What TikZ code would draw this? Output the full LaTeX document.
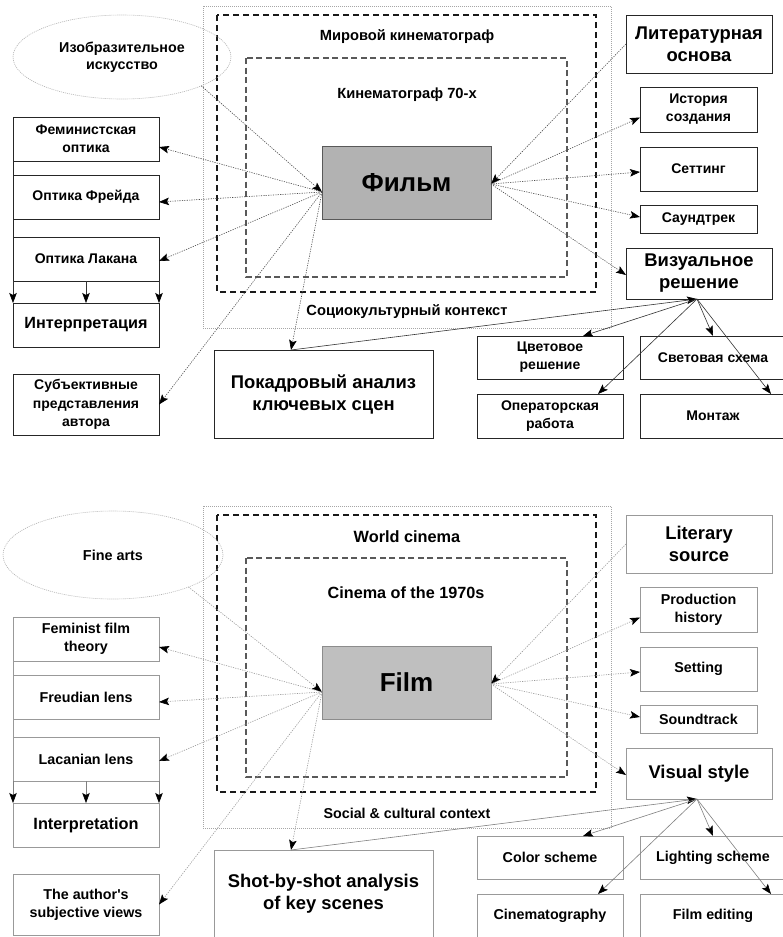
\documentclass[tikz,border=0pt]{standalone}
\usepackage{fontspec}
\setmainfont{Liberation Sans}[Ligatures=TeXOff]
\usetikzlibrary{arrows.meta,shapes.geometric}
\newcommand\fz[2]{\fontsize{#1}{#2}\selectfont\bfseries}
\begin{document}
\begin{tikzpicture}[x=1pt,y=-1pt,
  rb/.style={draw=black!85, line width=0.9pt, inner sep=1pt, outer sep=0pt, align=center, font=\fz{14}{18}},
  eb/.style={draw=black!40, line width=0.9pt, inner sep=1pt, outer sep=0pt, align=center, font=\fz{14.3}{18}},
  tip/.style={-{Stealth[length=10pt,width=7.5pt,inset=2pt,color=black]}},
  rdot/.style={tip, draw=black!70, line width=0.6pt, dash pattern=on 1.2pt off 1.2pt},
  edot/.style={tip, draw=black!40, line width=0.6pt, dash pattern=on 1.2pt off 1.2pt},
  rsol/.style={tip, draw=black!80, line width=0.6pt},
  esol/.style={tip, draw=black!50, line width=0.6pt},
  rline/.style={draw=black!85, line width=0.9pt},
  eline/.style={draw=black!40, line width=0.9pt},
  ctxrect/.style={draw=black!35, line width=0.7pt, dash pattern=on 1pt off 1pt},
  worldrect/.style={draw=black!90, line width=1.6pt, dash pattern=on 6pt off 4pt},
  decrect/.style={draw=black!65, line width=1.2pt, dash pattern=on 6pt off 3.5pt},
  artell/.style={ellipse, draw=black!30, line width=0.6pt, dash pattern=on 1pt off 1pt, inner sep=0pt, outer sep=0pt, align=center},
  filmbox/.style={line width=0.9pt, inner sep=0pt, outer sep=0pt, font=\fz{26}{30}}
]
\useasboundingbox (0,0) rectangle (782,937);
\fill[white] (0,0) rectangle (782,937);

% ================= Russian half =================
\draw[ctxrect] (203,6) rectangle (611,328);
\draw[worldrect] (217,15) rectangle (596,292);
\draw[decrect] (246,58) rectangle (567,277);
\node[font=\fz{14.7}{18}] (rworld) at (407,37) {Мировой кинематограф};
\node[font=\fz{14.7}{18}] (rdec) at (407,95) {Кинематограф 70-х};
\node[font=\fz{14.7}{18}] (rctx) at (407,312) {Социокультурный контекст};
\node[filmbox, draw=black!65, fill=black!30, minimum width=169pt, minimum height=73pt] (rfilm) at (406.5,182.5) {Фильм};
\node[artell, minimum width=218pt, minimum height=84pt, font=\fz{14.3}{17}] (rart) at (122,57) {Изобразительное\\искусство};

\node[rb, minimum width=146pt, minimum height=44pt] (rfem) at (86,139) {Феминистская\\оптика};
\node[rb, minimum width=146pt, minimum height=44pt] (rfreud) at (86,197) {Оптика Фрейда};
\node[rb, minimum width=146pt, minimum height=44pt] (rlacan) at (86,259) {Оптика Лакана};
\node[rb, minimum width=146pt, minimum height=44pt, font=\fz{16.2}{19}] (rinterp) at (86,325) {Интерпретация};
\node[rb, minimum width=146pt, minimum height=61pt, font=\fz{14}{18.5}] (rsubj) at (86,404.5) {Субъективные\\представления\\автора};
\node[rb, minimum width=219pt, minimum height=88pt, font=\fz{18.4}{22}] (rframe) at (323.5,394) {Покадровый анализ\\ключевых сцен};

\node[rb, minimum width=146pt, minimum height=58pt, font=\fz{18.4}{22}] (rlit) at (699,44) {Литературная\\основа};
\node[rb, minimum width=117pt, minimum height=45pt] (rhist) at (698.5,109.5) {История\\создания};
\node[rb, minimum width=117pt, minimum height=44pt] (rsett) at (698.5,169) {Сеттинг};
\node[rb, minimum width=117pt, minimum height=28pt] (rsound) at (698.5,219) {Саундтрек};
\node[rb, minimum width=146pt, minimum height=51pt, font=\fz{18.4}{22}] (rvis) at (699,273.5) {Визуальное\\решение};
\node[rb, minimum width=146pt, minimum height=43pt] (rcolor) at (550,357.5) {Цветовое\\решение};
\node[rb, minimum width=146pt, minimum height=43pt] (rlight) at (713,357.5) {Световая схема};
\node[rb, minimum width=146pt, minimum height=44pt] (roper) at (550,416) {Операторская\\работа};
\node[rb, minimum width=146pt, minimum height=44pt] (rmont) at (713,416) {Монтаж};

\coordinate (rfl) at ([yshift=-9.5pt]rfilm.west);
\coordinate (rfr) at ([yshift=-1.5pt]rfilm.east);
\coordinate (rvb) at ([xshift=-2pt]rvis.south);
\coordinate (rft) at ([xshift=-32.5pt]rframe.north);

\draw[rline] (rfem.south west) -- (rfreud.north west);
\draw[rline] (rfreud.south west) -- (rlacan.north west);
\draw[rsol] (rlacan.south west) -- (rinterp.north west);
\draw[rsol] (rlacan.south) -- (rinterp.north);
\draw[rsol] (rlacan.south east) -- (rinterp.north east);

\draw[rdot] (rart.-20.6) -- (rfl);
\draw[rdot] (rfl) -- ([yshift=-8pt]rfem.east);
\draw[rdot] (rfl) -- ([yshift=-5pt]rfreud.east);
\draw[rdot] (rfl) -- ([yshift=-2pt]rlacan.east);
\draw[rdot] (rfl) -- (rsubj.east);
\draw[rdot] (rfl) -- (rft);
\draw[rdot] (rlit.west) -- (rfr);
\draw[rdot] (rfr) -- ([yshift=-8pt]rhist.west);
\draw[rdot] (rfr) -- ([yshift=-3pt]rsett.west);
\draw[rdot] (rfr) -- ([yshift=2pt]rsound.west);
\draw[rdot] (rfr) -- ([yshift=-1.5pt]rvis.west);

\draw[rsol] (rft) -- (rvb);
\draw[rsol] (rvb) -- ([xshift=33pt]rcolor.north);
\draw[rsol] (rvb) -- (rlight.north);
\draw[rsol] (rvb) -- ([xshift=48pt]roper.north);
\draw[rsol] (rvb) -- ([xshift=58pt]rmont.north);

% ================= English half =================
\begin{scope}[yshift=-500pt]
\draw[ctxrect] (203,6) rectangle (611,328);
\draw[worldrect] (217,15) rectangle (596,292);
\draw[decrect] (246,58) rectangle (567,277);
\node[font=\fz{16.3}{19}] (eworld) at (407,37) {World cinema};
\node[font=\fz{16.2}{19}] (edec) at (406,93) {Cinema of the 1970s};
\node[font=\fz{14.3}{18}] (ectx) at (407,313) {Social \& cultural context};
\node[filmbox, draw=black!45, fill=black!25, minimum width=169pt, minimum height=73pt] (efilm) at (406.5,182.5) {Film};
\node[artell, minimum width=220pt, minimum height=88pt, font=\fz{14.4}{17}] (eart) at (113,55) {Fine arts};

\node[eb, minimum width=146pt, minimum height=44pt] (efem) at (86,139) {Feminist film\\theory};
\node[eb, minimum width=146pt, minimum height=44pt] (efreud) at (86,197) {Freudian lens};
\node[eb, minimum width=146pt, minimum height=44pt] (elacan) at (86,259) {Lacanian lens};
\node[eb, minimum width=146pt, minimum height=44pt, font=\fz{16.3}{19}] (einterp) at (86,325) {Interpretation};
\node[eb, minimum width=146pt, minimum height=61pt, font=\fz{14.3}{18}] (esubj) at (86,404.5) {The author's\\subjective views};
\node[eb, minimum width=219pt, minimum height=88pt, font=\fz{18.4}{22}] (eframe) at (323.5,394) {Shot-by-shot analysis\\of key scenes};

\node[eb, minimum width=146pt, minimum height=58pt, font=\fz{18.4}{22}] (elit) at (699,44) {Literary\\source};
\node[eb, minimum width=117pt, minimum height=45pt] (ehist) at (698.5,109.5) {Production\\history};
\node[eb, minimum width=117pt, minimum height=44pt] (esett) at (698.5,169) {Setting};
\node[eb, minimum width=117pt, minimum height=28pt] (esound) at (698.5,219) {Soundtrack};
\node[eb, minimum width=146pt, minimum height=51pt, font=\fz{18.4}{22}] (evis) at (699,273.5) {Visual style};
\node[eb, minimum width=146pt, minimum height=43pt] (ecolor) at (550,357.5) {Color scheme};
\node[eb, minimum width=146pt, minimum height=43pt] (elight) at (713,357.5) {Lighting scheme};
\node[eb, minimum width=146pt, minimum height=44pt] (eoper) at (550,416) {Cinematography};
\node[eb, minimum width=146pt, minimum height=44pt] (emont) at (713,416) {Film editing};

\coordinate (efl) at ([yshift=-9.5pt]efilm.west);
\coordinate (efr) at ([yshift=-1.5pt]efilm.east);
\coordinate (evb) at ([xshift=-2pt]evis.south);
\coordinate (eft) at ([xshift=-32.5pt]eframe.north);

\draw[eline] (efem.south west) -- (efreud.north west);
\draw[eline] (efreud.south west) -- (elacan.north west);
\draw[esol] (elacan.south west) -- (einterp.north west);
\draw[esol] (elacan.south) -- (einterp.north);
\draw[esol] (elacan.south east) -- (einterp.north east);

\draw[edot] (eart.-23.1) -- (efl);
\draw[edot] (efl) -- ([yshift=-8pt]efem.east);
\draw[edot] (efl) -- ([yshift=-5pt]efreud.east);
\draw[edot] (efl) -- ([yshift=-2pt]elacan.east);
\draw[edot] (efl) -- (esubj.east);
\draw[edot] (efl) -- (eft);
\draw[edot] (elit.west) -- (efr);
\draw[edot] (efr) -- ([yshift=-8pt]ehist.west);
\draw[edot] (efr) -- ([yshift=-3pt]esett.west);
\draw[edot] (efr) -- ([yshift=2pt]esound.west);
\draw[edot] (efr) -- ([yshift=-1.5pt]evis.west);

\draw[esol] (eft) -- (evb);
\draw[esol] (evb) -- ([xshift=33pt]ecolor.north);
\draw[esol] (evb) -- (elight.north);
\draw[esol] (evb) -- ([xshift=48pt]eoper.north);
\draw[esol] (evb) -- ([xshift=58pt]emont.north);
\end{scope}
\end{tikzpicture}
\end{document}
